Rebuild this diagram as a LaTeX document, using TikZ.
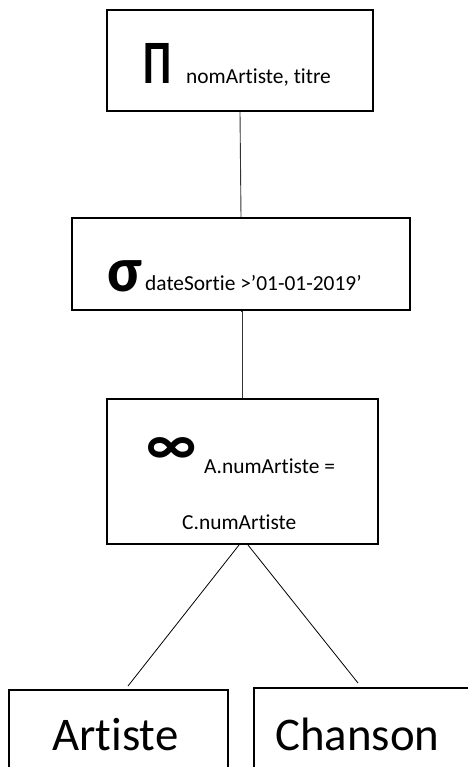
\documentclass[tikz,border=0pt]{standalone}
\usepackage{fontspec}
\usepackage{graphicx}
\setmainfont{Carlito}[Ligatures={NoCommon}]
\tikzset{
  box/.style={draw, line width=2bp, rectangle, inner sep=0pt},
  sub/.style={font=\fontsize{21.5}{24}\selectfont, anchor=base west, inner sep=0pt},
  big/.style={font=\fontsize{47}{52}\selectfont, anchor=base west, inner sep=0pt},
  sym/.style={font=\fontsize{62}{66}\selectfont, anchor=base west, inner sep=0pt},
  conn/.style={line width=0.9bp, black!80},
}
\begin{document}
\begin{tikzpicture}[x=1bp,y=-1bp]
\useasboundingbox (0,0) rectangle (468,767);
\clip (0,0) rectangle (468,767);
% boxes
\node[box, minimum width=266bp, minimum height=101bp] (proj) at (240,60.5) {};
\node[box, minimum width=338bp, minimum height=92bp] (sel) at (241,264) {};
\node[box, minimum width=271bp, minimum height=145bp] (join) at (242.5,471.5) {};
\node[box, minimum width=219bp, minimum height=120bp] (art) at (118.5,750) {};
\node[box, minimum width=222bp, minimum height=120bp] (chan) at (365,748) {};
% texts
\node[sym, font=\fontsize{62}{66}\selectfont\bfseries] (pi) at (143,83) {\scalebox{0.72}[1]{Π}};
\node[sub] (pisub) at (186,83) {nomArtiste, titre};
\node[sym, font=\fontsize{64}{66}\selectfont\bfseries] (sigma) at (107,291) {σ};
\node[sub] (sigsub) at (145,290) {dateSortie >’01-01-2019’};
\node[font=\fontsize{60}{64}\selectfont\bfseries, inner sep=0pt] (inf) at (171.5,451.5) {∞};
\node[sub] (joinsub1) at (204,473) {A.numArtiste =};
\node[sub] (joinsub2) at (182,529) {C.numArtiste};
\node[big] (arttxt) at (52,750) {Artiste};
\node[big] (chantxt) at (275,750) {Chanson};
% connectors
\coordinate (endA) at (128,686);
\coordinate (endC) at (358,683);
\draw[conn] (proj.south) -- (sel.north);
\draw[conn] (sel.south) -- (join.south |- sel.south) -- (join.north);
\draw[line width=0.8bp] ([xshift=-3.5bp]join.south) -- (endA);
\draw[line width=0.8bp] ([xshift=5.5bp]join.south) -- (endC);
\end{tikzpicture}
\end{document}
